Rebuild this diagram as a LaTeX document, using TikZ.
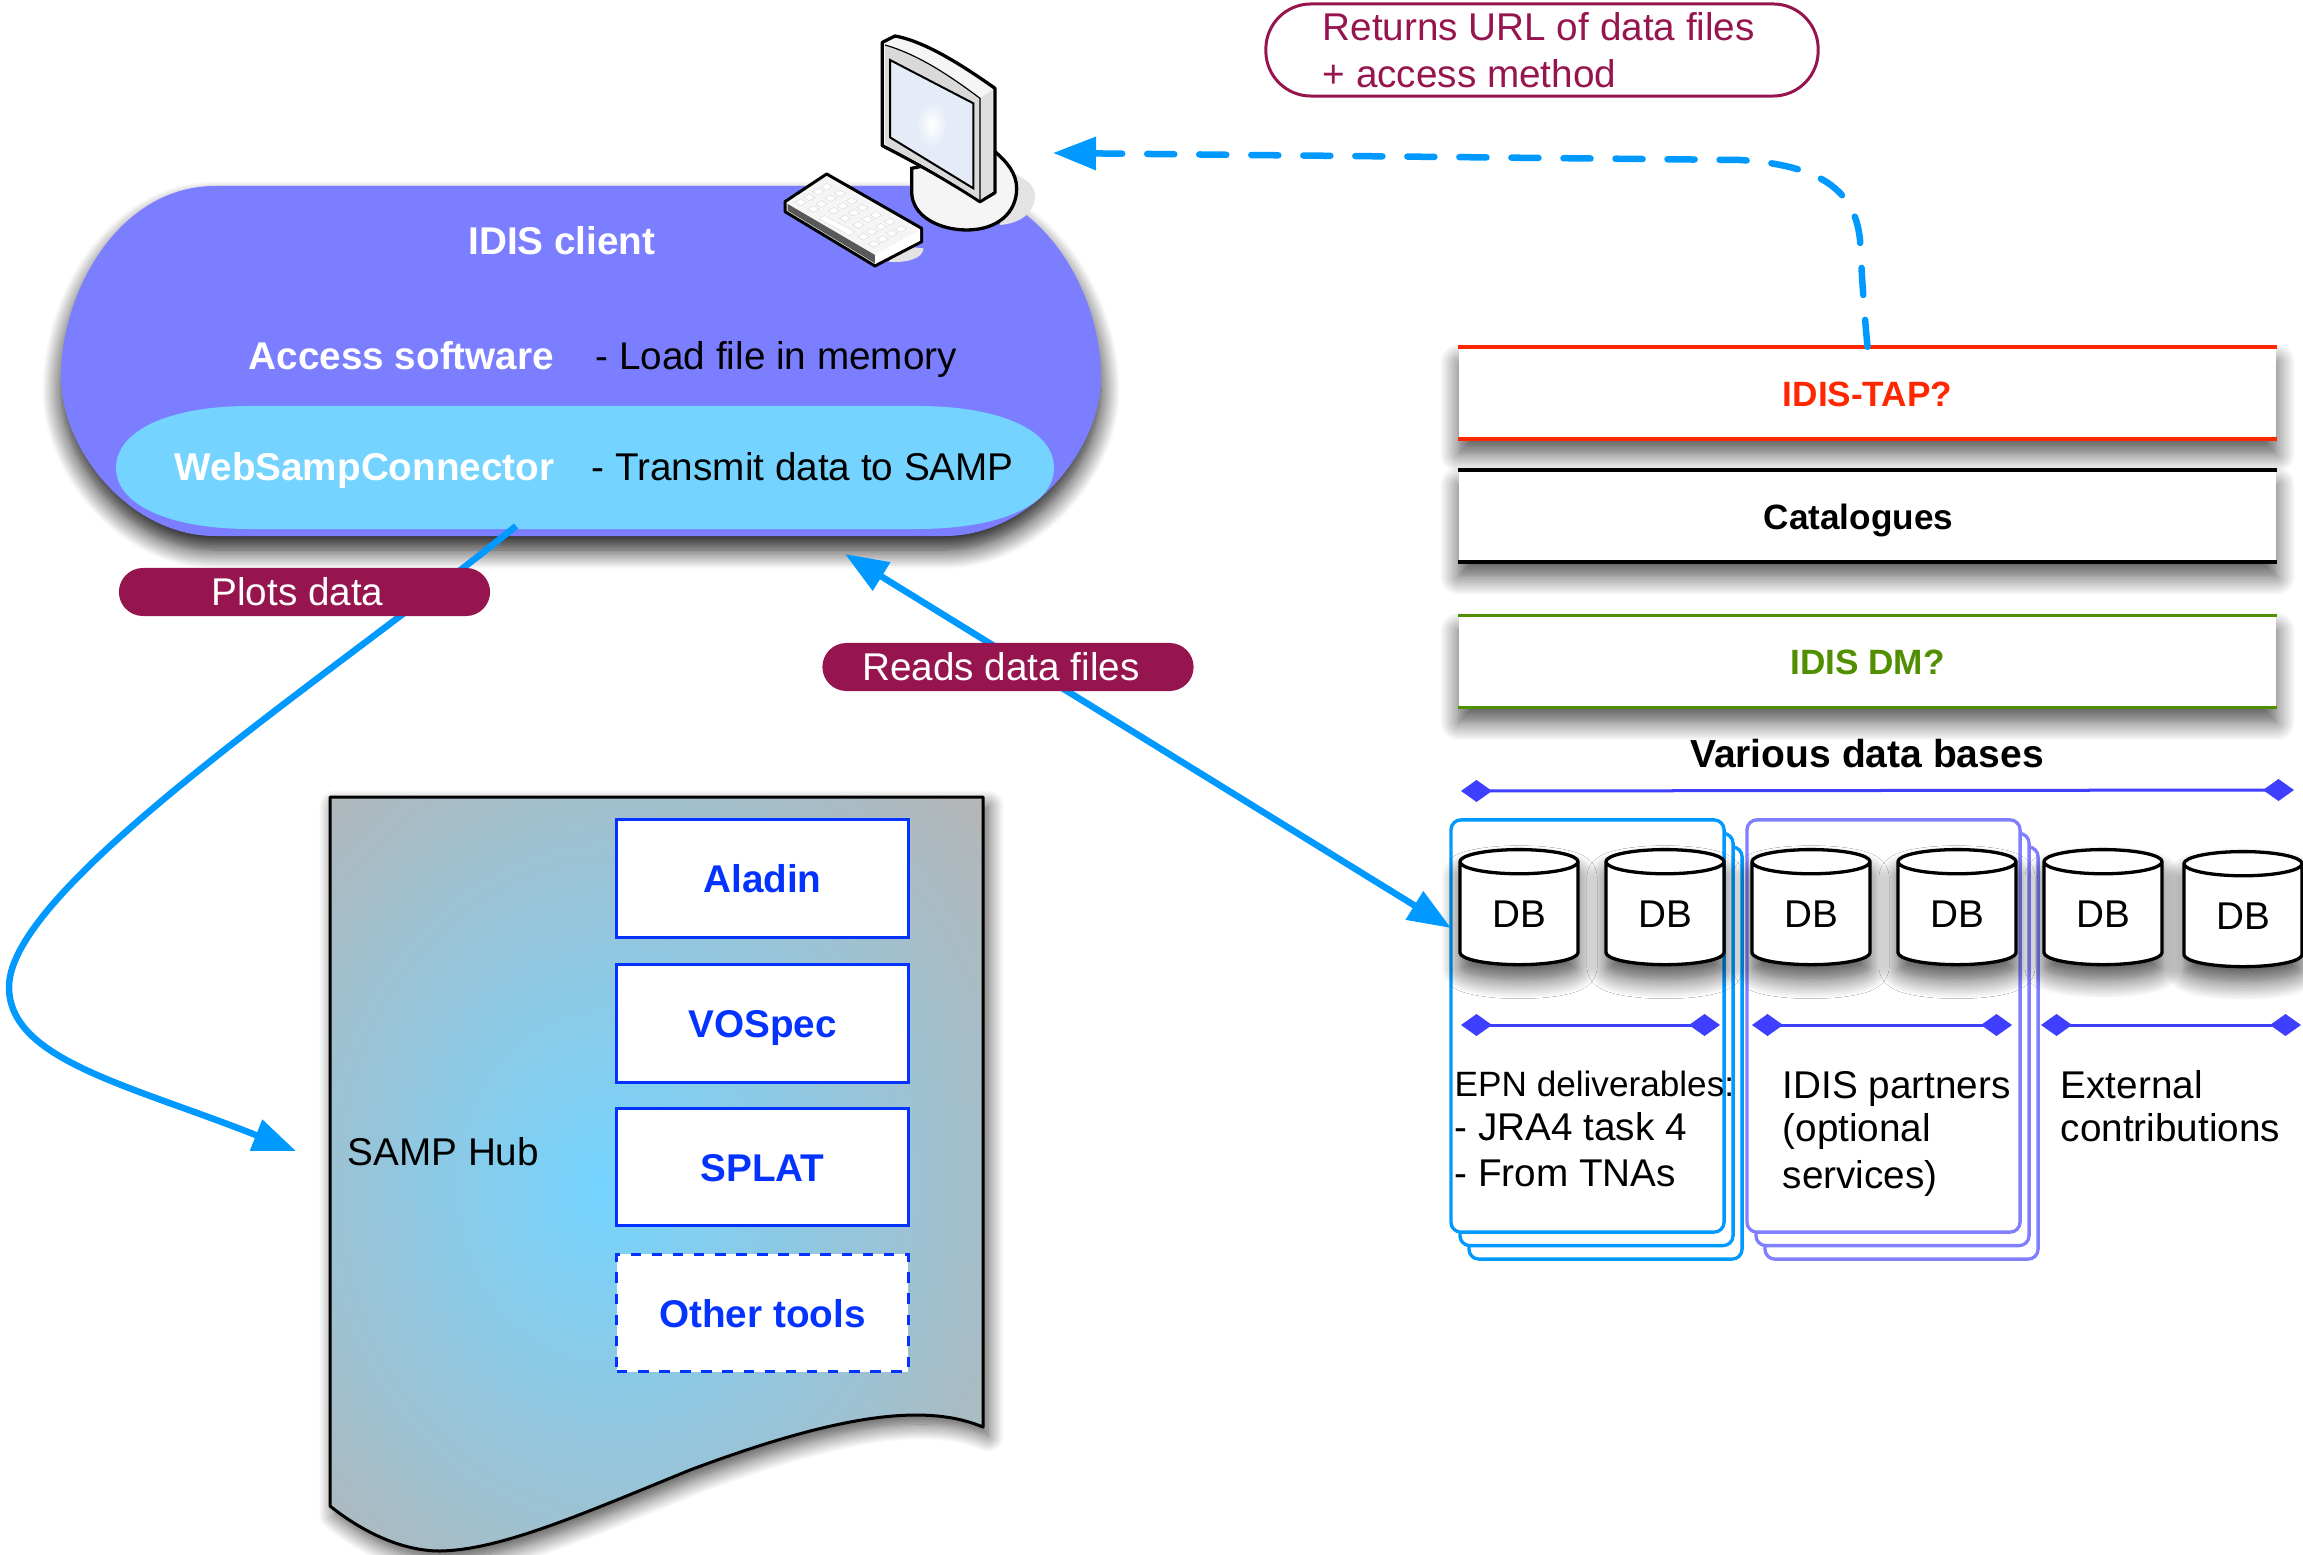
\documentclass[tikz,border=0pt]{standalone}
\usepackage{fontspec}
\setmainfont{Liberation Sans}
\usetikzlibrary{arrows.meta,shapes.geometric,shadows.blur}

\definecolor{clientblue}{HTML}{7B7FFF}
\definecolor{connsky}{HTML}{75D4FF}
\definecolor{arrowblue}{HTML}{0099FF}
\definecolor{pillred}{HTML}{97154F}
\definecolor{toolblue}{HTML}{0433FF}
\definecolor{spanblue}{HTML}{3F3FFF}
\definecolor{stackpurple}{HTML}{8080FF}
\definecolor{tapred}{HTML}{FF2600}
\definecolor{dmgreen}{HTML}{4F8F00}
\definecolor{hubgray}{HTML}{B6B6B6}
\definecolor{screenblue}{HTML}{E5ECF7}

\pgfdeclareradialshading{hubshade}{\pgfpoint{-4.4bp}{-1bp}}{color(0bp)=(connsky); color(37bp)=(hubgray); color(60bp)=(hubgray)}
\pgfdeclareradialshading{screenshade}{\pgfpoint{0bp}{0bp}}{color(0bp)=(white); color(9bp)=(screenblue); color(50bp)=(screenblue)}

\tikzset{
  fsnormal/.style={font=\fontsize{11pt}{13.3pt}\selectfont},
  fsbold/.style={font=\fontsize{11pt}{13.3pt}\selectfont\bfseries},
  plain/.style={inner sep=0pt,anchor=base west},
  softshadow/.style={blur shadow={shadow xshift=0cm,shadow yshift=-0.15cm,shadow blur radius=0.19cm,shadow blur steps=14,shadow opacity=70}},
  pill/.style={fill=pillred,text=white,fsnormal,rounded corners=0.24cm,minimum width=3.71cm,minimum height=0.48cm,inner sep=0pt,text height=0.28cm,text depth=0.02cm},
  toolbox/.style={draw=toolblue,line width=0.03cm,fill=white,text=toolblue,fsbold,minimum width=2.91cm,minimum height=1.17cm,inner sep=0pt,text height=0.28cm,text depth=0cm},
  rowbox/.style={fill=white,font=\fontsize{10pt}{12pt}\selectfont\bfseries,minimum width=8.17cm,minimum height=0.91cm,inner sep=0pt,text height=0.26cm,text depth=0cm,softshadow},
  rowline/.style={line width=0.035cm},
  dbcyl/.style={cylinder,shape border rotate=90,shape aspect=0.45,draw=black,line width=0.033cm,fill=white,fsnormal,
    minimum width=1.18cm,minimum height=1.15cm,inner sep=0pt,softshadow},
  stackbox/.style={fill=white,line width=0.033cm,rounded corners=0.1cm,minimum width=2.73cm,minimum height=4.12cm,inner sep=0pt},
  spanline/.style={draw=spanblue,line width=0.03cm,{Diamond[length=0.31cm,width=0.22cm]}-{Diamond[length=0.31cm,width=0.22cm]}},
  flowline/.style={draw=arrowblue,line width=0.065cm},
  bigtip/.style={-{Triangle[length=0.43cm,width=0.32cm]}},
  keycap/.style={fill=white,draw=black!12,line width=0.006cm},
}

\begin{document}
\begin{tikzpicture}[x=0.01cm,y=-0.01cm,fsnormal]
  \useasboundingbox (0,0) rectangle (2303,1555);

  % IDIS client
  \path[fill=clientblue,blur shadow={shadow xshift=0cm,shadow yshift=-0.14cm,shadow blur radius=0.19cm,shadow blur steps=14,shadow opacity=90}]
    (215,186) .. controls (120,186) and (61,290) .. (61,377) .. controls (61,450) and (130,536) .. (215,536)
    -- (945,536) .. controls (1030,536) and (1101,450) .. (1101,377) .. controls (1101,290) and (1040,186) .. (945,186) -- cycle;
  \fill[connsky] (250,406) .. controls (170,406) and (116,430) .. (116,468) .. controls (116,505) and (170,529) .. (250,529)
    -- (917,529) .. controls (1000,529) and (1054,505) .. (1054,468) .. controls (1054,430) and (1000,406) .. (917,406) -- cycle;
  \node[fsbold,text=white] (clienttitle) at (562,241) {IDIS client};
  \node[plain,fsbold,text=white] (accesssw) at (248,370) {Access software};
  \node[plain] (accessnote) at (595,370) {- Load file in memory};
  \node[plain,fsbold,text=white] (webconn) at (174,481) {WebSampConnector};
  \node[plain] (webnote) at (591,481) {- Transmit data to SAMP};

  % poste de travail
  \begin{scope}[shift={(740,0)},scale=1/3]
    \fill[black!11] (800,510) .. controls (860,535) and (890,560) .. (885,595) .. controls (880,640) and (840,670) .. (780,675) -- cycle;
    \fill[black!11] (445,785) .. controls (500,790) and (550,775) .. (550,745) -- (500,740) -- cycle;
    \draw[line width=0.033cm,fill=black!4] (515,505) -- (515,575) .. controls (515,650) and (600,690) .. (680,690)
      .. controls (770,690) and (830,640) .. (830,565) .. controls (830,520) and (800,485) .. (765,455) -- cycle;
    \draw[line width=0.033cm,line join=round,fill=black!4] (427,127) -- (465,108) .. controls (560,125) and (680,205) .. (765,265)
      -- (765,578) -- (720,605) .. controls (620,540) and (530,490) .. (427,437) -- cycle;
    \fill[black!15] (435,135) .. controls (540,165) and (640,235) .. (720,295) -- (720,600) .. controls (620,535) and (530,485) .. (435,432) -- cycle;
    \fill[black!13] (720,295) -- (758,270) -- (758,575) -- (720,600) -- cycle;
    \draw[line width=0.012cm] (435,135) .. controls (540,165) and (640,235) .. (720,295) -- (720,600);
    \path[draw=black,line width=0.02cm,shading=screenshade] (450,180) -- (700,310) -- (700,565) -- (450,412) -- cycle;
    % clavier
    \draw[line width=0.03cm,line join=round,fill=black!4] (135,605) -- (260,522) -- (545,685) -- (545,725) -- (405,798) -- (135,635) -- cycle;
    \fill[black!65] (143,612) -- (405,765) -- (405,790) -- (143,632) -- cycle;
    \fill[white] (405,765) -- (540,690) -- (540,722) -- (405,790) -- cycle;
    \foreach \kx/\ky in {260/560,300/580,335/603,368/623,408/645,450/665,483/687,
                         235/575,272/595,308/618,342/638,382/658,423/680,455/700,
                         208/592,245/612,282/632,315/655,355/675,395/695,428/717,
                         182/607,220/627,370/710,402/732}
      \draw[keycap] ({\kx-17},\ky) -- (\kx,{\ky-10}) -- ({\kx+17},\ky) -- (\kx,{\ky+10}) -- cycle;
    \draw[keycap] (238,657) -- (253,647) -- (345,695) -- (330,707) -- cycle;
  \end{scope}

  % SAMP Hub
  \path[draw=black,line width=0.03cm,line join=round,shading=hubshade,
        blur shadow={shadow xshift=0.05cm,shadow yshift=-0.09cm,shadow blur radius=0.16cm,shadow blur steps=14,shadow opacity=70}]
    (330,797) -- (983,797) -- (983,1427) .. controls (930,1405) and (850,1410) .. (690,1470)
    .. controls (580,1515) and (500,1550) .. (440,1551) .. controls (400,1551) and (360,1530) .. (330,1506) -- cycle;
  \node[plain] (hubname) at (347,1165) {SAMP Hub};
  \node[toolbox] (aladin) at (762.5,878.5) {Aladin};
  \node[toolbox] (vospec) at (762.5,1023.5) {VOSpec};
  \node[toolbox] (splat) at (762.5,1167) {SPLAT};
  \node[toolbox,dashed] (othertools) at (762.5,1313) {Other tools};

  % couches de droite
  \node[rowbox,text=tapred] (idistap) at (1867.5,393) {IDIS-TAP?};
  \draw[rowline,tapred] (idistap.north west) -- (idistap.north east);
  \draw[rowline,tapred] (idistap.south west) -- (idistap.south east);
  \node[rowbox] (catalogues) at (1867.5,516) {Catalogues\kern0.18cm};
  \draw[rowline] (catalogues.north west) -- (catalogues.north east);
  \draw[rowline] (catalogues.south west) -- (catalogues.south east);
  \node[rowbox,text=dmgreen] (idisdm) at (1867.5,661.5) {IDIS DM?};
  \draw[rowline,dmgreen] (idisdm.north west) -- (idisdm.north east);
  \draw[rowline,dmgreen] (idisdm.south west) -- (idisdm.south east);

  \node[fsbold] (variousdb) at (1867,754) {\fontsize{11.1pt}{13pt}\selectfont Various data bases};
  \coordinate (allL) at (1461,791);
  \coordinate (allR) at (2294,790);
  \draw[spanline] (allL) -- (allR);

  % piles de documents
  \foreach \dd in {2,1,0} {
    \node[stackbox,draw=arrowblue] (epnstack\dd) at ({1587.5+\dd*9},{1026+\dd*13.5}) {};
  }
  \foreach \dd in {2,1,0} {
    \node[stackbox,draw=stackpurple] (partstack\dd) at ({1883.5+\dd*9},{1026+\dd*13.5}) {};
  }

  % bases
  \node[dbcyl] (dba) at (1519,914) {DB};
  \node[dbcyl] (dbb) at (1665,914) {DB};
  \node[dbcyl] (dbc) at (1811,914) {DB};
  \node[dbcyl] (dbd) at (1957,914) {DB};
  \node[dbcyl] (dbe) at (2103,914) {DB};
  \node[dbcyl] (dbf) at (2243,916) {DB};

  \coordinate (epnL) at (1461,1025);
  \coordinate (epnR) at (1720,1025);
  \draw[spanline] (epnL) -- (epnR);
  \coordinate (partL) at (1752,1025);
  \coordinate (partR) at (2012,1025);
  \draw[spanline] (partL) -- (partR);
  \coordinate (extL) at (2041,1025);
  \coordinate (extR) at (2301,1025);
  \draw[spanline] (extL) -- (extR);

  \node[plain,font=\fontsize{10pt}{12.8pt}\selectfont] (epntxt) at (1454,1096) {EPN deliverables:};
  \node[plain] (epntxtb) at (1454,1140) {- JRA4 task 4};
  \node[plain] (epntxtc) at (1454,1186) {- From TNAs};
  \node[plain] (parttxt) at (1782,1098) {IDIS partners};
  \node[plain] (parttxtb) at (1782,1141) {(optional};
  \node[plain] (parttxtc) at (1782,1188) {services)};
  \node[plain] (exttxt) at (2060,1098) {External};
  \node[plain] (exttxtb) at (2060,1141) {contributions};

  % fleches
  \coordinate (plotsstart) at (516,526);
  \coordinate (hubin) at (296,1151);
  \draw[flowline,bigtip] (plotsstart) .. controls (340,670) and (9,885) .. (9,987) .. controls (9,1060) and (130,1085) .. (hubin);
  \coordinate (clientread) at (845,554);
  \coordinate (dbread) at (1451,928);
  \draw[flowline,{Triangle[length=0.43cm,width=0.32cm]}-{Triangle[length=0.43cm,width=0.32cm]}] (clientread) -- (dbread);
  \coordinate (screenin) at (1053,153);
  \draw[flowline,bigtip,line cap=round,dash pattern=on 0.27cm off 0.25cm] (idistap.north) .. controls (1864,310) and (1862,280) .. (1860,240)
    .. controls (1855,190) and (1820,165) .. (1740,160) -- (screenin);

  % etiquettes
  \node[pill] (plotspill) at (304.5,592) {Plots data\kern0.14cm};
  \node[pill] (readspill) at (1008,667) {Reads data files\kern0.14cm};
  \node[draw=pillred,line width=0.03cm,fill=white,rounded corners=0.45cm,minimum width=5.52cm,minimum height=0.92cm] (returnpill) at (1542,50) {};
  \node[plain,text=pillred] (returntxt) at (1322,41) {Returns URL of data files};
  \node[plain,text=pillred] (returntxtb) at (1322,88) {+ access method};
\end{tikzpicture}
\end{document}
